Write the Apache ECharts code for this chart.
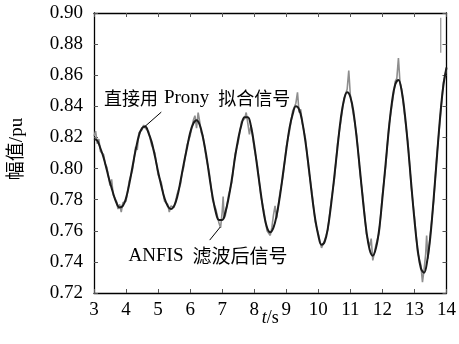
<!DOCTYPE html>
<html>
<head>
<meta charset="utf-8">
<script src="https://cdn.jsdelivr.net/npm/echarts@6/dist/echarts.min.js"></script>
<style>
html,body{margin:0;padding:0;background:#fff;}
#c{width:459px;height:344px;}
</style>
</head>
<body>
<div id="c"></div>
<script>
// ---- data ----
var xTicks = [3,4,5,6,7,8,9,10,11,12,13,14];
var yTicks = [0.72,0.74,0.76,0.78,0.80,0.82,0.84,0.86,0.88,0.90];

// Prony fitted signal (smooth black curve), sampled every 0.1 s from 3.0 s
var pronyTime = [3.0,3.1,3.2,3.3,3.4,3.5,3.6,3.7,3.8,3.9,4.0,4.1,4.2,4.3,4.4,4.5,4.6,4.7,4.8,4.9,
  5.0,5.1,5.2,5.3,5.4,5.5,5.6,5.7,5.8,5.9,6.0,6.1,6.2,6.3,6.4,6.5,6.6,6.7,6.8,6.9,
  7.0,7.1,7.2,7.3,7.4,7.5,7.6,7.7,7.8,7.9,8.0,8.1,8.2,8.3,8.4,8.5,8.6,8.7,8.8,8.9,
  9.0,9.1,9.2,9.3,9.4,9.5,9.6,9.7,9.8,9.9,10.0,10.1,10.2,10.3,10.4,10.5,10.6,10.7,10.8,10.9,
  11.0,11.1,11.2,11.3,11.4,11.5,11.6,11.7,11.8,11.9,12.0,12.1,12.2,12.3,12.4,12.5,12.6,12.7,12.8,12.9,
  13.0,13.1,13.2,13.3,13.4,13.5,13.6,13.7,13.8,13.9,14.0];
var pronyValue = [0.819,0.818,0.813,0.807,0.799,0.791,0.784,0.778,0.775,0.776,0.781,0.790,0.801,0.812,0.821,0.826,0.827,0.823,0.817,0.808,
  0.798,0.789,0.781,0.776,0.774,0.776,0.782,0.792,0.803,0.813,0.823,0.829,0.831,0.828,0.820,0.809,0.795,0.782,0.772,0.767,
  0.767,0.772,0.781,0.793,0.807,0.819,0.828,0.833,0.833,0.827,0.815,0.800,0.785,0.771,0.762,0.759,0.762,0.770,0.782,0.797,
  0.812,0.826,0.835,0.840,0.838,0.830,0.817,0.801,0.783,0.768,0.757,0.751,0.753,0.762,0.777,0.795,0.814,0.832,0.844,0.849,
  0.846,0.836,0.819,0.799,0.778,0.760,0.748,0.744,0.749,0.761,0.781,0.803,0.825,0.843,0.854,0.857,0.850,0.835,0.814,0.790,
  0.767,0.748,0.736,0.733,0.741,0.757,0.781,0.807,0.833,0.853,0.865];

// ANFIS filtered signal (noisy grey curve)
var anfisTime = [3.0,3.05,3.1,3.15,3.2,3.3,3.35,3.4,3.5,3.55,3.6,3.7,3.75,3.8,3.85,3.9,4.0,4.1,4.2,4.3,4.35,4.4,4.5,4.55,4.6,4.7,4.8,4.9,
  5.0,5.1,5.2,5.3,5.35,5.4,5.5,5.6,5.7,5.75,5.8,5.9,6.0,6.1,6.15,6.2,6.25,6.3,6.35,6.4,6.5,6.6,6.7,6.8,6.9,6.95,
  7.0,7.03,7.06,7.1,7.2,7.3,7.4,7.5,7.6,7.7,7.75,7.8,7.85,7.9,8.0,8.1,8.2,8.3,8.4,8.5,8.55,8.6,8.65,8.7,8.8,8.9,
  9.0,9.1,9.2,9.3,9.35,9.4,9.45,9.5,9.6,9.7,9.8,9.9,10.0,10.1,10.15,10.2,10.3,10.4,10.5,10.6,10.7,10.8,10.9,10.95,
  11.0,11.1,11.2,11.3,11.4,11.5,11.6,11.65,11.7,11.75,11.8,11.9,12.0,12.1,12.2,12.3,12.4,12.45,12.5,12.55,12.6,12.7,12.8,12.9,
  13.0,13.1,13.2,13.25,13.3,13.35,13.38,13.42,13.5,13.6,13.7,13.8,13.9,14.0];
var anfisValue = [0.821,0.824,0.816,0.819,0.811,0.809,0.803,0.801,0.789,0.793,0.783,0.779,0.774,0.777,0.772,0.778,0.779,0.792,0.799,0.814,0.812,0.823,0.825,0.828,0.826,0.824,0.815,0.810,
  0.796,0.791,0.779,0.777,0.772,0.776,0.775,0.784,0.790,0.797,0.801,0.815,0.821,0.831,0.834,0.826,0.836,0.830,0.823,0.821,0.807,0.797,0.780,0.774,0.765,0.762,
  0.772,0.782,0.768,0.770,0.783,0.791,0.809,0.817,0.830,0.832,0.836,0.829,0.822,0.828,0.813,0.802,0.783,0.773,0.760,0.757,0.762,0.770,0.776,0.768,0.784,0.795,
  0.814,0.824,0.837,0.842,0.849,0.836,0.838,0.829,0.819,0.799,0.785,0.766,0.758,0.749,0.748,0.754,0.761,0.779,0.793,0.816,0.830,0.845,0.851,0.863,
  0.847,0.834,0.821,0.797,0.780,0.758,0.750,0.755,0.741,0.746,0.751,0.759,0.783,0.801,0.827,0.841,0.856,0.858,0.871,0.855,0.851,0.833,0.816,0.788,
  0.769,0.746,0.738,0.727,0.735,0.745,0.757,0.742,0.759,0.779,0.809,0.831,0.855,0.864];

// short grey stroke near the top-right corner
var strokeTime = [13.82,13.82];
var strokeValue = [0.8745,0.897];

// annotation texts
var labelProny = ['直接用', 'Prony', '拟合信号'];
var labelAnfis = ['ANFIS', '滤波后信号'];

function pairs(t,v){ var o=[]; for(var i=0;i<t.length;i++) o.push([t[i],v[i]]); return o; }

var SERIF = '"Liberation Serif","Times New Roman",serif';
var FONT = '"Liberation Serif","Noto Sans CJK SC",serif';
var CJK = '"Noto Sans CJK SC",sans-serif';
var chart = echarts.init(document.getElementById('c'), null, {renderer:'canvas'});

var axisCommon = {
  type:'value',
  axisLine:{show:true,onZero:false,lineStyle:{color:'#000',width:1.3}},
  axisTick:{show:true,inside:true,length:4,lineStyle:{color:'#555',width:1}},
  splitLine:{show:false}
};

var option = {
  animation:false,
  backgroundColor:'#fff',
  grid:{left:93,right:9,top:13,bottom:51,containLabel:false},
  xAxis:[
    Object.assign({}, axisCommon, {
      min:3,max:14,interval:1,position:'bottom',
      axisLabel:{color:'#000',fontFamily:SERIF,fontSize:19,margin:8},
      name:'{i|t}/s',nameLocation:'middle',nameGap:16,nameMoveOverlap:false,
      nameTextStyle:{color:'#000',fontFamily:SERIF,fontSize:18,verticalAlign:'top',
        rich:{i:{fontStyle:'italic',fontFamily:SERIF,fontSize:18,color:'#000'}}}
    }),
    Object.assign({}, axisCommon, {
      min:3,max:14,interval:1,position:'top',axisLabel:{show:false}
    })
  ],
  yAxis:[
    Object.assign({}, axisCommon, {
      min:0.72,max:0.90,interval:0.02,position:'left',
      axisLabel:{color:'#000',fontFamily:SERIF,fontSize:19,margin:11,
        formatter:function(v){return v.toFixed(2);}},
      name:'幅值/pu',nameLocation:'middle',nameGap:67,nameRotate:90,nameMoveOverlap:false,
      nameTextStyle:{color:'#000',fontFamily:FONT,fontSize:19,padding:[0,0,0,8]}
    }),
    Object.assign({}, axisCommon, {
      min:0.72,max:0.90,interval:0.02,position:'right',axisLabel:{show:false}
    })
  ],
  series:[
    {type:'line',name:'ANFIS',data:pairs(anfisTime,anfisValue),showSymbol:false,
      lineStyle:{color:'#8e8e8e',width:1.6},z:2},
    {type:'line',name:'stroke',data:pairs(strokeTime,strokeValue),showSymbol:false,
      lineStyle:{color:'#9a9a9a',width:1.3},z:2},
    {type:'line',name:'Prony',data:pairs(pronyTime,pronyValue),showSymbol:false,smooth:0.4,
      lineStyle:{color:'#1a1a1a',width:2},z:3}
  ]
};
chart.setOption(option);

function px(t,v){ return chart.convertToPixel({xAxisIndex:0,yAxisIndex:0},[t,v]); }
var p1a = px(5.10,0.8363), p1b = px(4.57,0.8267);
var p2a = px(6.61,0.7540), p2b = px(6.94,0.7624);
var t1 = px(3.31,0.8455), t2 = px(4.08,0.7440);
chart.setOption({
  graphic:[
    {type:'line',shape:{x1:p1a[0],y1:p1a[1],x2:p1b[0],y2:p1b[1]},style:{stroke:'#000',lineWidth:1},z:10},
    {type:'line',shape:{x1:p2a[0],y1:p2a[1],x2:p2b[0],y2:p2b[1]},style:{stroke:'#000',lineWidth:1},z:10},
    {type:'text',x:t1[0],y:t1[1],z:10,style:{
      text:'{c|'+labelProny[0]+'}{l|'+labelProny[1]+'}{c|'+labelProny[2]+'}',
      verticalAlign:'middle',fill:'#000',
      rich:{c:{fontFamily:CJK,fontSize:18,fill:'#000'},
            l:{fontFamily:SERIF,fontSize:19,fill:'#000',padding:[0,9,0,6]}}}},
    {type:'text',x:t2[0],y:t2[1],z:10,style:{
      text:'{l|'+labelAnfis[0]+'}{c|'+labelAnfis[1]+'}',
      verticalAlign:'middle',fill:'#000',
      rich:{c:{fontFamily:CJK,fontSize:19,fill:'#000'},
            l:{fontFamily:SERIF,fontSize:19,fill:'#000',padding:[0,9,0,0]}}}}
  ]
});
</script>
</body>
</html>
